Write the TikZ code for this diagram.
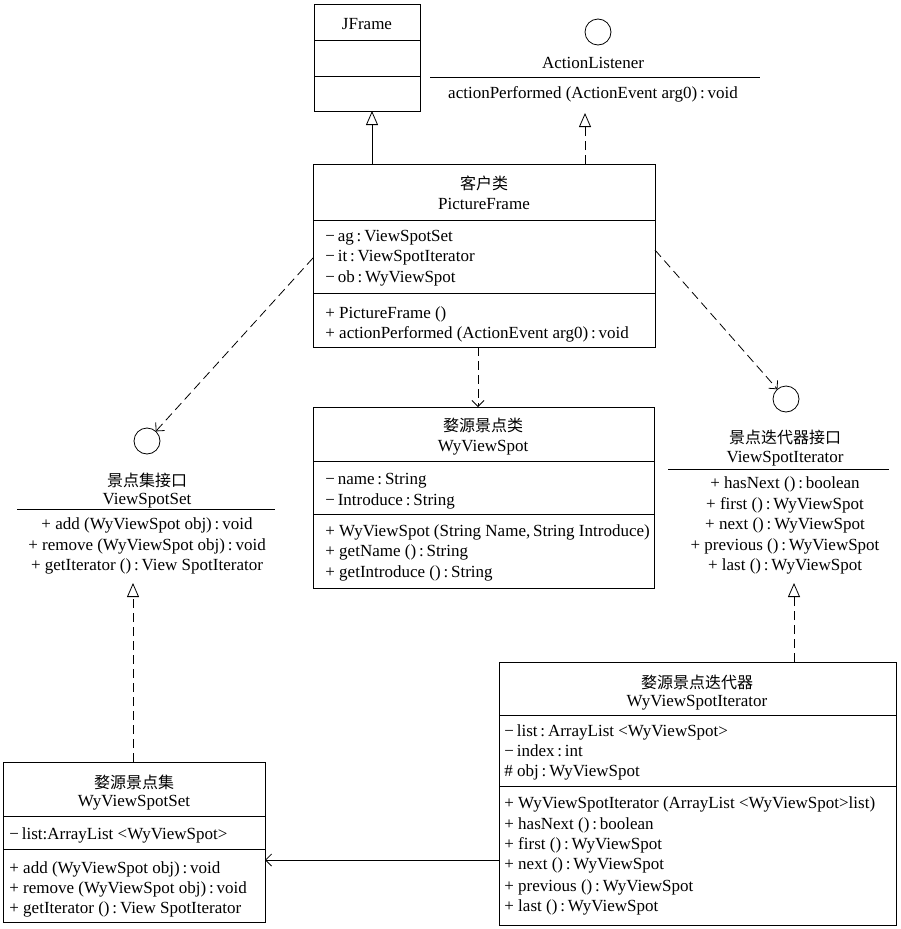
\documentclass[tikz,border=0pt]{standalone}
\usepackage{fontspec}
\setmainfont{Liberation Serif}
\newfontfamily\cjk{Noto Sans CJK SC}
\usetikzlibrary{arrows.meta}
\newcommand{\cl}{\,:\,}
\newcommand{\mn}{−\,}
\begin{document}
\begin{tikzpicture}[x=1pt,y=-1pt,line width=0.8pt,
  box/.style={draw,anchor=north west,inner sep=0pt,outer sep=0pt},
  t/.style={inner sep=0pt,anchor=base west,font=\fontsize{17}{20}\selectfont},
  tc/.style={inner sep=0pt,anchor=base,font=\fontsize{17}{20}\selectfont},
  ct/.style={inner sep=0pt,anchor=base,font=\cjk\fontsize{16}{20}\selectfont},
  iface/.style={draw,circle,minimum size=26pt,inner sep=0pt,outer sep=0pt},
  dsh/.style={dash pattern=on 9pt off 5pt},
  gen/.style={-{Triangle[open,length=14pt,width=12pt]}},
  real/.style={dsh,-{Triangle[open,length=14pt,width=12pt]}},
  dep/.style={dsh,-{Straight Barb[length=6pt,width=12pt]}},
  assoc/.style={-{Straight Barb[length=6pt,width=12pt]}}]
\useasboundingbox (0,0) rectangle (900,929);

% ---------- JFrame ----------
\node[box,minimum width=106pt,minimum height=107pt] (jf) at (314,4) {};
\draw (jf.west |- 0,40) -- (jf.east |- 0,40);
\draw (jf.west |- 0,76) -- (jf.east |- 0,76);
\node[tc] (jft) at (367,29) {JFrame};

% ---------- ActionListener ----------
\node[iface] (al) at (598,32) {};
\node[tc] (aln) at (593,68) {ActionListener};
\draw (430,77) -- (760,77);
\node[tc] (alm) at (593,98) {actionPerformed (ActionEvent arg0)\cl void};
\coordinate (alb) at (585,113);

% ---------- PictureFrame ----------
\node[box,minimum width=342pt,minimum height=183pt] (pf) at (313,164) {};
\draw (pf.west |- 0,220) -- (pf.east |- 0,220);
\draw (pf.west |- 0,293) -- (pf.east |- 0,293);
\node[ct] (pf1) at (484,189) {客户类};
\node[tc] (pf2) at (484,209) {PictureFrame};
\node[t] (pfa1) at (325,241) {\mn ag\cl ViewSpotSet};
\node[t] (pfa2) at (325,261.5) {\mn it\cl ViewSpotIterator};
\node[t] (pfa3) at (325,282) {\mn ob\cl WyViewSpot};
\node[t] (pfm1) at (325,318) {+ PictureFrame ()};
\node[t] (pfm2) at (325,338) {+ actionPerformed (ActionEvent arg0)\cl void};

% ---------- WyViewSpot ----------
\node[box,minimum width=341pt,minimum height=181pt] (wv) at (313,407) {};
\draw (wv.west |- 0,461) -- (wv.east |- 0,461);
\draw (wv.west |- 0,514) -- (wv.east |- 0,514);
\node[ct] (wv1) at (483,431) {婺源景点类};
\node[tc] (wv2) at (483,451) {WyViewSpot};
\node[t] (wva1) at (325,484) {\mn name\cl String};
\node[t] (wva2) at (325,505) {\mn Introduce\cl String};
\node[t] (wvm1) at (325,536) {+ WyViewSpot (String Name,\,String Introduce)};
\node[t] (wvm2) at (325,556) {+ getName ()\cl String};
\node[t] (wvm3) at (325,577) {+ getIntroduce ()\cl String};

% ---------- ViewSpotSet interface ----------
\node[iface] (ls) at (147,441) {};
\node[ct] (ls1) at (147,486) {景点集接口};
\node[tc] (ls2) at (147,504) {ViewSpotSet};
\draw (17,509) -- (275,509);
\node[tc] (lsm1) at (147,529) {+ add (WyViewSpot obj)\cl void};
\node[tc] (lsm2) at (147,550) {+ remove (WyViewSpot obj)\cl void};
\node[tc] (lsm3) at (147,570) {+ getIterator ()\cl View SpotIterator};
\coordinate (lsb) at (133,583);

% ---------- ViewSpotIterator interface ----------
\node[iface] (rs) at (786,399) {};
\node[ct] (rs1) at (785,443) {景点迭代器接口};
\node[tc] (rs2) at (785,462) {ViewSpotIterator};
\draw (668,469) -- (889,469);
\node[tc] (rsm1) at (785,488) {+ hasNext ()\cl boolean};
\node[tc] (rsm2) at (785,509) {+ first ()\cl WyViewSpot};
\node[tc] (rsm3) at (785,529) {+ next ()\cl WyViewSpot};
\node[tc] (rsm4) at (785,550) {+ previous ()\cl WyViewSpot};
\node[tc] (rsm5) at (785,570) {+ last ()\cl WyViewSpot};
\coordinate (rsb) at (794,583);

% ---------- WyViewSpotSet ----------
\node[box,minimum width=262pt,minimum height=160pt] (ws) at (3,762) {};
\draw (ws.west |- 0,816) -- (ws.east |- 0,816);
\draw (ws.west |- 0,849) -- (ws.east |- 0,849);
\node[ct] (ws1) at (134,788) {婺源景点集};
\node[tc] (ws2) at (134,806) {WyViewSpotSet};
\node[t] (wsa1) at (9,839) {\mn list:ArrayList <WyViewSpot>};
\node[t] (wsm1) at (9,873) {+ add (WyViewSpot obj)\cl void};
\node[t] (wsm2) at (9,893) {+ remove (WyViewSpot obj)\cl void};
\node[t] (wsm3) at (9,913) {+ getIterator ()\cl View SpotIterator};

% ---------- WyViewSpotIterator ----------
\node[box,minimum width=397pt,minimum height=263pt] (wi) at (499,662) {};
\draw (wi.west |- 0,715) -- (wi.east |- 0,715);
\draw (wi.west |- 0,786) -- (wi.east |- 0,786);
\node[ct] (wi1) at (697,688) {婺源景点迭代器};
\node[tc] (wi2) at (697,706) {WyViewSpotIterator};
\node[t] (wia1) at (504,736) {\mn list\cl ArrayList <WyViewSpot>};
\node[t] (wia2) at (504,756) {\mn index\cl int};
\node[t] (wia3) at (504,776) {\# obj\cl WyViewSpot};
\node[t] (wim1) at (504,808) {+ WyViewSpotIterator (ArrayList <WyViewSpot>list)};
\node[t] (wim2) at (504,829) {+ hasNext ()\cl boolean};
\node[t] (wim3) at (504,849) {+ first ()\cl WyViewSpot};
\node[t] (wim4) at (504,869) {+ next ()\cl WyViewSpot};
\node[t] (wim5) at (504,891) {+ previous ()\cl WyViewSpot};
\node[t] (wim6) at (504,911) {+ last ()\cl WyViewSpot};

% ---------- connectors ----------
\draw[gen] (pf.north -| 372,0) -- (jf.south -| 372,0);
\draw[real] (pf.north -| 585,0) -- (alb);
\draw[dep] (pf.west |- 0,258) -- (ls);
\draw[dep] (pf.east |- 0,250) -- (rs);
\draw[dep] (pf.south -| 478,0) -- (wv.north -| 478,0);
\draw[real] (ws.north -| 133,0) -- (lsb);
\draw[real] (wi.north -| 794,0) -- (rsb);
\draw[assoc] (wi.west |- 0,860) -- (ws.east |- 0,860);
\end{tikzpicture}
\end{document}
